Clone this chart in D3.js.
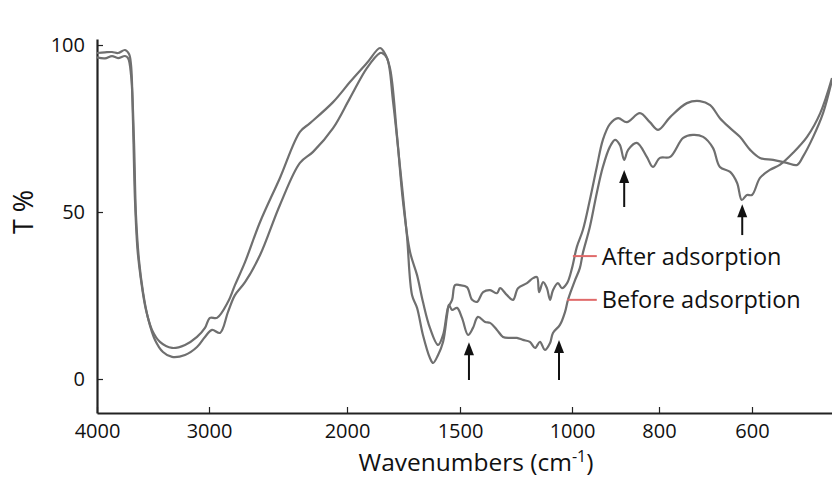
<!DOCTYPE html>
<html>
<head>
<meta charset="utf-8">
<script src="https://cdn.jsdelivr.net/npm/d3@7"></script>
<style>
  html, body { margin: 0; padding: 0; background: #fff; }
  svg { display: block; }
  text { font-family: "Open Sans", "Noto Sans", sans-serif; fill: #111; }
</style>
</head>
<body>
<svg id="chart" width="832" height="481"></svg>
<script>
// ---------- data ----------
const xTicks = [4000, 3000, 2000, 1500, 1000, 800, 600];
const yTicks = [0, 50, 100];

// Upper curve ("After adsorption"): wavenumber (cm-1) and transmittance (%)
const afterWn = [4000, 3929, 3866, 3812, 3750, 3714, 3696, 3679, 3661, 3638, 3607, 3563, 3509, 3438, 3330, 3214, 3107, 3036, 2993, 2942, 2862, 2812, 2739, 2630, 2486, 2341, 2268, 2101, 1987, 1912, 1854, 1836, 1810, 1779, 1752, 1721, 1690, 1664, 1633, 1597, 1575, 1553, 1535, 1522, 1500, 1469, 1446, 1424, 1397, 1366, 1335, 1321, 1290, 1263, 1241, 1201, 1174, 1156, 1147, 1129, 1112, 1098, 1085, 1063, 1045, 1022, 1000, 989, 975, 959, 943, 929, 913, 894, 874, 844, 821, 802, 776, 740, 712, 690, 669, 647, 626, 604, 583, 555, 526, 504, 492, 470, 449, 430];
const afterT  = [97.6, 97.8, 97.9, 97.6, 98.5, 97.3, 94.0, 77.5, 53.6, 38.6, 29.6, 20.7, 14.7, 11.1, 9.3, 10.2, 12.6, 15.3, 18.3, 18.3, 23.1, 28.1, 35.0, 47.0, 60.2, 74.0, 76.6, 82.9, 88.9, 94.6, 99.1, 97.9, 93.1, 73.1, 53.0, 38.0, 31.1, 23.1, 15.3, 10.2, 13.2, 21.3, 23.7, 28.1, 28.1, 27.5, 23.7, 23.1, 26.0, 26.6, 25.7, 27.2, 25.1, 23.7, 27.2, 28.7, 30.2, 30.5, 26.0, 29.0, 27.2, 23.7, 26.6, 28.7, 27.2, 28.7, 33.2, 39.5, 44.6, 53.6, 63.5, 71.6, 76.3, 78.1, 76.9, 79.6, 76.9, 74.6, 78.4, 82.6, 83.2, 82.0, 78.1, 75.1, 72.5, 68.6, 66.2, 65.6, 64.7, 64.1, 66.5, 72.5, 79.6, 89.5];

// Lower curve ("Before adsorption")
const beforeWn = [4000, 3929, 3866, 3812, 3750, 3723, 3696, 3670, 3652, 3625, 3589, 3545, 3482, 3411, 3330, 3214, 3107, 3036, 2978, 2920, 2862, 2812, 2739, 2630, 2486, 2341, 2246, 2101, 1987, 1912, 1854, 1845, 1823, 1796, 1765, 1735, 1712, 1690, 1664, 1633, 1619, 1597, 1575, 1557, 1549, 1535, 1513, 1491, 1464, 1442, 1420, 1388, 1366, 1335, 1308, 1277, 1246, 1219, 1188, 1165, 1143, 1121, 1098, 1085, 1054, 1031, 1018, 993, 982, 975, 959, 943, 929, 913, 901, 890, 880, 871, 851, 828, 814, 798, 776, 748, 727, 705, 684, 669, 647, 632, 622, 611, 600, 583, 562, 541, 513, 483, 455, 430];
const beforeT  = [96.3, 96.0, 96.7, 96.1, 96.7, 96.1, 91.0, 71.6, 49.1, 35.6, 26.0, 18.3, 11.7, 8.1, 6.6, 7.2, 9.6, 12.6, 14.7, 13.8, 20.1, 25.1, 29.0, 37.1, 52.1, 64.7, 68.0, 75.1, 84.1, 93.1, 97.6, 97.6, 96.1, 82.9, 63.2, 43.1, 25.1, 21.3, 13.2, 6.3, 4.8, 7.2, 11.1, 19.2, 22.2, 20.7, 21.3, 18.3, 13.2, 15.3, 18.6, 17.1, 16.8, 14.7, 12.6, 12.3, 12.3, 11.7, 11.1, 9.3, 11.1, 8.7, 10.8, 13.8, 16.2, 20.1, 23.7, 29.6, 33.2, 37.7, 45.5, 55.7, 63.5, 69.5, 71.6, 70.1, 65.6, 68.6, 70.7, 66.5, 63.5, 66.2, 66.5, 72.2, 73.1, 72.5, 69.2, 63.5, 62.0, 58.7, 53.6, 55.1, 55.1, 60.2, 62.6, 64.1, 67.7, 72.5, 79.6, 90.1];

// Arrows marking bands
const arrowWn   = [1460, 1058, 880, 621];
const arrowTipT = [11.0, 11.7, 62.6, 52.3];
const arrowBaseT = [-0.3, -0.3, 51.5, 43.1];

// Curve labels
const labelNames = ["After adsorption", "Before adsorption"];
const labelT = [36.8, 23.7];
const labelStartWn = [998, 1022];
const labelEndWn = [943, 943];

// ---------- scales ----------
const svg = d3.select("#chart");
const x = d3.scaleLinear()
  .domain([4000, 3000, 2000, 1500, 1000, 800, 600, 430])
  .range([97, 209, 347, 460, 572, 659, 752, 832]);
const y = d3.scaleLinear().domain([-10.18, 101.8]).range([413, 39]);

// ---------- axes ----------
const xAxis = d3.axisBottom(x).tickValues(xTicks).tickFormat(d3.format("d"))
  .tickSizeInner(-6).tickSizeOuter(0).tickPadding(11);
const gx = svg.append("g").attr("transform", "translate(0,413)").call(xAxis);
gx.select(".domain").attr("stroke", "#222").attr("stroke-width", 2.2);
gx.selectAll(".tick line").attr("stroke", "#222").attr("stroke-width", 1.2);
gx.selectAll(".tick text").style("font-size", "20px").attr("fill", "#111");

const yAxis = d3.axisLeft(y).tickValues(yTicks).tickFormat(d3.format("d"))
  .tickSizeInner(-6).tickSizeOuter(0).tickPadding(12);
const gy = svg.append("g").attr("transform", "translate(97,0)").call(yAxis);
gy.select(".domain").attr("stroke", "#222").attr("stroke-width", 2.2);
gy.selectAll(".tick line").attr("stroke", "#222").attr("stroke-width", 1.2);
gy.selectAll(".tick text").style("font-size", "20px").attr("fill", "#111");

// axis titles
const xt = svg.append("text").attr("x", 476).attr("y", 471)
  .attr("text-anchor", "middle").style("font-size", "24.5px");
xt.append("tspan").text("Wavenumbers (cm");
xt.append("tspan").text("-1").attr("dy", -9).style("font-size", "16px");
xt.append("tspan").text(")").attr("dy", 9);

svg.append("text").attr("transform", "translate(33,212) rotate(-90)")
  .attr("text-anchor", "middle").style("font-size", "27px").text("T %");

// ---------- curves ----------
const line = d3.line().x(d => x(d[0])).y(d => y(d[1])).curve(d3.curveCatmullRom.alpha(0.5));
const series = [d3.zip(afterWn, afterT), d3.zip(beforeWn, beforeT)];
svg.append("g").selectAll("path").data(series).join("path")
  .attr("d", line).attr("fill", "none")
  .attr("stroke", "#6f6f6f").attr("stroke-width", 2.2).attr("stroke-linejoin", "round");

// ---------- arrows ----------
const ag = svg.append("g");
arrowWn.forEach((w, i) => {
  const ax = x(w), yt = y(arrowTipT[i]), yb = y(arrowBaseT[i]);
  ag.append("line").attr("x1", ax).attr("x2", ax).attr("y1", yt + 8).attr("y2", yb)
    .attr("stroke", "#111").attr("stroke-width", 2);
  ag.append("path").attr("d", `M${ax},${yt} L${ax - 5},${yt + 13} L${ax + 5},${yt + 13} Z`)
    .attr("fill", "#111");
});

// ---------- labels ----------
labelNames.forEach((name, i) => {
  const yy = y(labelT[i]);
  svg.append("line").attr("x1", x(labelStartWn[i])).attr("x2", x(labelEndWn[i]))
    .attr("y1", yy).attr("y2", yy).attr("stroke", "#e06a6a").attr("stroke-width", 2);
  svg.append("text").attr("x", x(labelEndWn[i]) + 5).attr("y", yy).attr("dy", "0.36em")
    .style("font-size", "23.5px").text(name);
});
</script>
</body>
</html>
